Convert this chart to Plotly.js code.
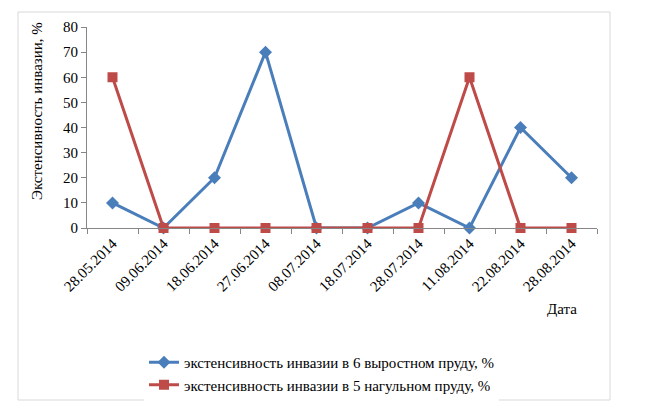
<!DOCTYPE html>
<html><head><meta charset="utf-8">
<script src="https://cdn.plot.ly/plotly-3.0.1.min.js"></script>
<style>html,body{margin:0;padding:0;background:#fff}</style>
</head><body><div id="chart" style="width:648px;height:417px"></div>
<script>
const dates = ["28.05.2014","09.06.2014","18.06.2014","27.06.2014","08.07.2014","18.07.2014","28.07.2014","11.08.2014","22.08.2014","28.08.2014"];
const pond6 = [10,0,20,70,0,0,10,0,40,20];
const pond5 = [60,0,0,0,0,0,0,60,0,0];
const name6 = "экстенсивность инвазии в 6 выростном пруду, %";
const name5 = "экстенсивность инвазии в 5 нагульном пруду, %";
const yTitle = "Экстенсивность инвазии, %";
const xTitle = "Дата";
const font = "Liberation Serif";
const L=87,R=597,T=27,B=228, W=648,H=417;
const pw=R-L, ph=B-T;
const px = x => (x-L)/pw, py = y => (B-y)/ph;
const traces = [
 {x:dates,y:pond6,name:name6,type:"scatter",mode:"lines+markers",cliponaxis:false,
  line:{color:"#4a7ebb",width:3},marker:{symbol:"diamond",size:10,color:"#4a7ebb"}},
 {x:dates,y:pond5,name:name5,type:"scatter",mode:"lines+markers",cliponaxis:false,
  line:{color:"#be4b48",width:3},marker:{symbol:"square",size:10,color:"#be4b48"}}
];
const layout = {
 width:W,height:H,margin:{l:L,r:W-R,t:T,b:H-B},
 paper_bgcolor:"#fff",plot_bgcolor:"#fff",
 font:{family:font,size:14,color:"#000"},
 showlegend:true,
 legend:{orientation:"v",x:px(144),y:py(346),xanchor:"left",yanchor:"top",font:{family:font,size:15},tracegroupgap:4,itemwidth:30},
 xaxis:{type:"category",tickangle:-45,showline:true,linecolor:"#868686",linewidth:1,
  ticks:"outside",tickson:"boundaries",ticklen:5,tickcolor:"#868686",showgrid:false,zeroline:false,
  tickfont:{family:font,size:15},range:[-0.5,9.5]},
 yaxis:{range:[0,80],dtick:10,showline:true,linecolor:"#868686",ticks:"outside",ticklen:5,tickcolor:"#868686",
  showgrid:false,zeroline:false,tickfont:{family:font,size:15}},
 annotations:[
  {text:xTitle,xref:"paper",yref:"paper",x:px(562),y:py(309),xanchor:"center",yanchor:"middle",showarrow:false,font:{family:font,size:15}},
  {text:yTitle,xref:"paper",yref:"paper",x:px(37),y:py(111),xanchor:"center",yanchor:"middle",textangle:-90,showarrow:false,font:{family:font,size:15}}
 ],
 shapes:[{type:"rect",xref:"paper",yref:"paper",x0:px(18),x1:px(610),y0:py(400),y1:py(12),line:{color:"#d9d9d9",width:1}}]
};
Plotly.newPlot("chart",traces,layout,{displayModeBar:false});
</script></body></html>
